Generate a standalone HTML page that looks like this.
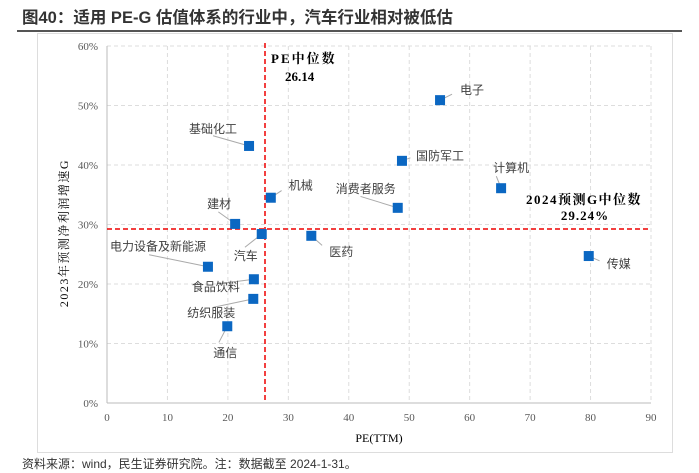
<!DOCTYPE html>
<html><head><meta charset="utf-8">
<style>
body{margin:0;background:#fff;width:699px;height:473px;overflow:hidden;font-family:"Liberation Sans","Noto Sans CJK SC",sans-serif;}
svg{position:absolute;left:0;top:0}
</style></head><body>
<svg id="c" width="699" height="473">
<text x="22" y="23" font-size="16.5" font-weight="bold" fill="#333" font-family="Liberation Sans,Noto Sans CJK SC,sans-serif">图40：适用 PE-G 估值体系的行业中，汽车行业相对被低估</text>
<rect x="17" y="30" width="665" height="2" fill="#555"/>
<rect x="37.5" y="33.5" width="635" height="419" fill="none" stroke="#ddd"/>
<text x="22" y="468" font-size="12" fill="#333" font-family="Liberation Sans,Noto Sans CJK SC,sans-serif">资料来源：wind，民生证券研究院。注：数据截至 2024-1-31。</text>
</svg>
<script>
const categories=["电子","国防军工","计算机","消费者服务","机械","基础化工","建材","汽车","医药","电力设备及新能源","食品饮料","纺织服装","通信","传媒"];
const peValues=[55.1,48.8,65.2,48.1,27.1,23.5,21.2,25.6,33.8,16.7,24.3,24.2,19.9,79.7];
const gValues=[50.9,40.7,36.1,32.8,34.5,43.2,30.1,28.4,28.1,22.9,20.8,17.5,12.9,24.7];
const xTicks=[0,10,20,30,40,50,60,70,80,90];
const yTicks=[0,10,20,30,40,50,60];
const peMedian=26.14, gMedian=29.24;
const lab=[[20,-10,"start"],[14,-5,"start"],[-8,-20,"start"],[-62,-19,"start"],[18,-12,"start"],[-60,-17,"start"],[-28,-20,"start"],[-28,22,"start"],[18,16,"start"],[-98,-20,"start"],[-62,8,"start"],[-66,14,"start"],[-14,27,"start"],[18,8,"start"]];
const svg=document.getElementById('c');const NS='http://www.w3.org/2000/svg';
const X=v=>107+v*(651-107)/90, Y=v=>403-v*(403-46)/60;
function mk(t,a){const e=document.createElementNS(NS,t);for(const k in a)e.setAttribute(k,a[k]);svg.appendChild(e);return e;}
const F='Liberation Serif,Noto Serif CJK SC,serif';
xTicks.forEach(t=>{if(t>0){const l=mk('line',{x1:X(t),x2:X(t),y1:Y(60),y2:Y(0),stroke:'#ddd','stroke-dasharray':'4,3'});}
const e=mk('text',{x:X(t),y:421,'font-size':11,fill:'#595959','text-anchor':'middle','font-family':F});e.textContent=t;});
yTicks.forEach(t=>{if(t>0){const l=mk('line',{x1:X(0),x2:X(90),y1:Y(t),y2:Y(t),stroke:'#ddd','stroke-dasharray':'4,3'});}
const e=mk('text',{x:98,y:Y(t)+4,'font-size':11,fill:'#595959','text-anchor':'end','font-family':F});e.textContent=t+'%';});
let a=mk('line',{x1:X(0),x2:X(90),y1:Y(0),y2:Y(0),stroke:'#bbb'});
a=mk('line',{x1:X(0),x2:X(0),y1:Y(0),y2:Y(60),stroke:'#bbb'});
let m=mk('line',{x1:X(peMedian),x2:X(peMedian),y1:Y(60)-3,y2:Y(0),stroke:'#e00','stroke-width':1.5,'stroke-dasharray':'5,3'});
m=mk('line',{x1:X(0),x2:X(90),y1:Y(gMedian),y2:Y(gMedian),stroke:'#e00','stroke-width':1.5,'stroke-dasharray':'5,3'});
let t=mk('text',{x:X(peMedian)+6,y:Y(60)+17,'font-size':13,'font-weight':'bold','letter-spacing':2,'font-family':F});t.textContent='PE中位数';
t=mk('text',{x:X(peMedian)+20,y:Y(60)+35,'font-size':13,'font-weight':'bold','font-family':F});t.textContent=peMedian.toFixed(2);
t=mk('text',{x:584,y:Y(gMedian)-25,'font-size':13,'font-weight':'bold','letter-spacing':1.5,'text-anchor':'middle','font-family':F});t.textContent='2024预测G中位数';
t=mk('text',{x:585,y:Y(gMedian)-9,'font-size':13,'font-weight':'bold','letter-spacing':1,'text-anchor':'middle','font-family':F});t.textContent=gMedian.toFixed(2)+'%';
categories.forEach((c,i)=>{const px=X(peValues[i]),py=Y(gValues[i]);const o=lab[i];
const ln=mk('line',{x1:px,y1:py,x2:px+o[0]*0.6,y2:py+o[1]*0.6,stroke:'#aaa'});
const r=mk('rect',{x:px-5,y:py-5,width:10,height:10,fill:'#0b67c2'});
const tx=mk('text',{x:px+o[0],y:py+o[1]+4,'font-size':12,fill:'#404040','text-anchor':o[2],'font-family':'Liberation Sans,Noto Sans CJK SC,sans-serif'});tx.textContent=c;});
t=mk('text',{x:379,y:442,'font-size':12,'text-anchor':'middle','font-family':F});t.textContent='PE(TTM)';
t=mk('text',{x:0,y:0,'font-size':12,'letter-spacing':1.5,'text-anchor':'middle','font-family':F,transform:'translate(68,233) rotate(-90)'});t.textContent='2023年预测净利润增速G';
</script>
</body></html>
